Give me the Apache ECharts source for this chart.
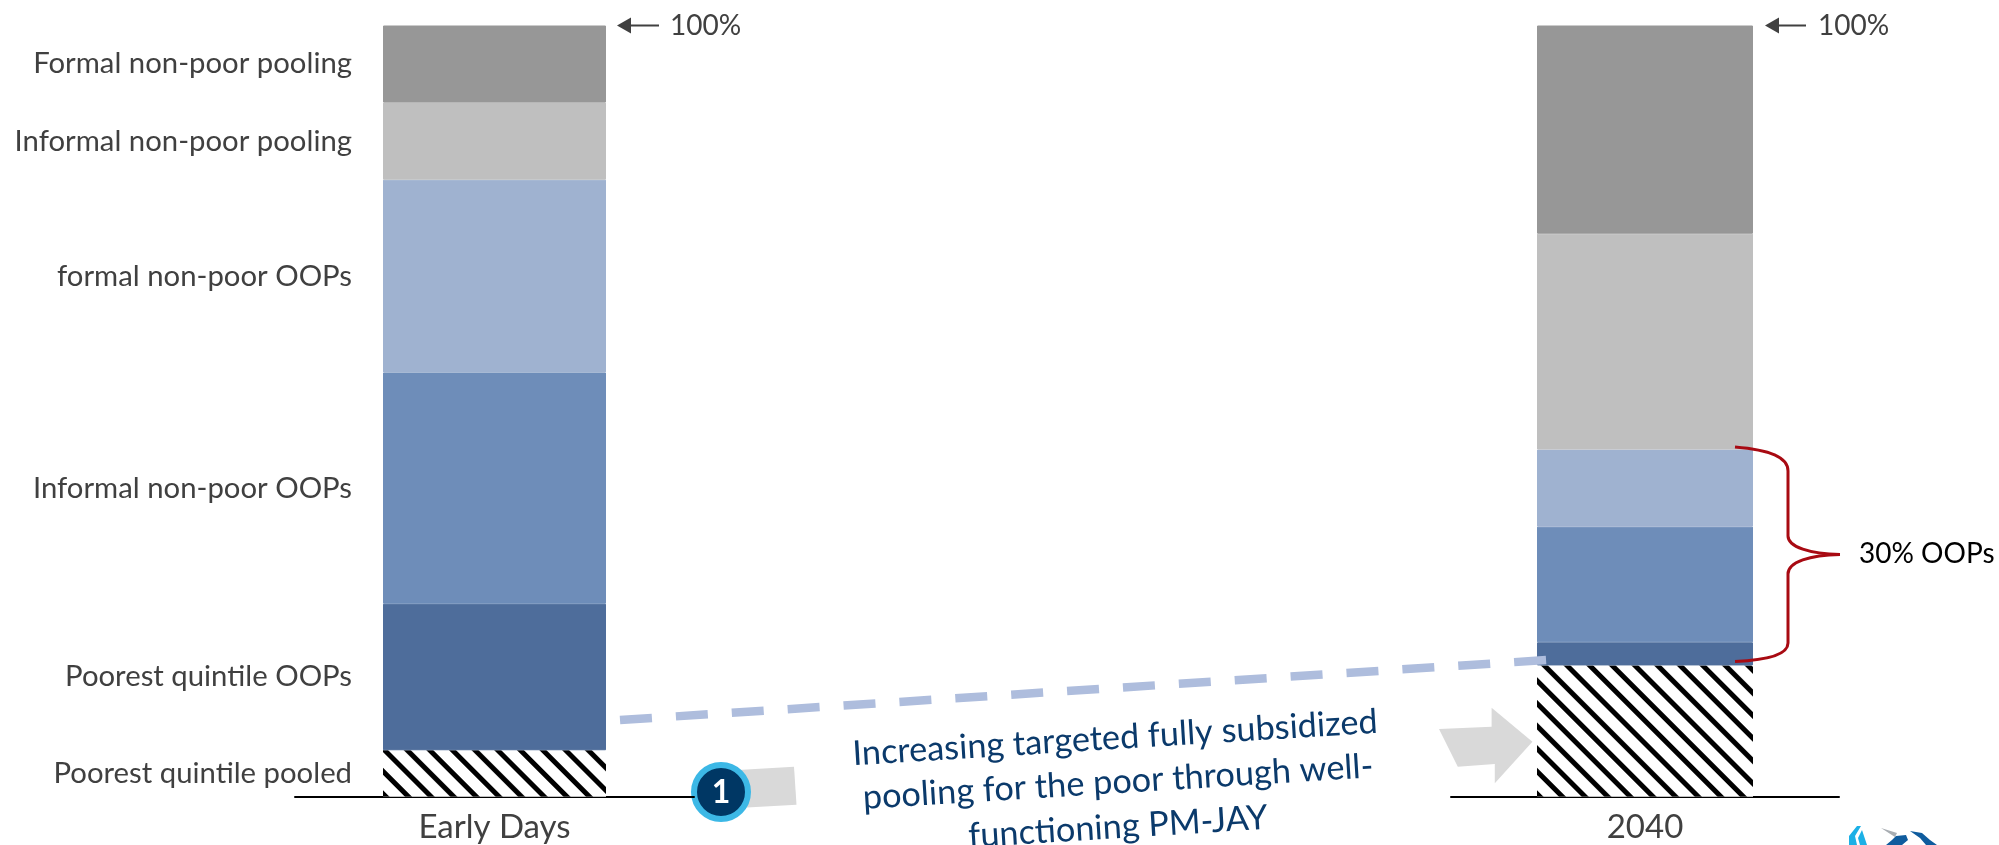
<!DOCTYPE html>
<html><head><meta charset="utf-8">
<style>html,body{margin:0;padding:0;background:#fff}#c{width:1999px;height:845px}</style>
<script src="https://cdn.jsdelivr.net/npm/echarts@6/dist/echarts.min.js"></script>
</head><body><div id="c"></div>
<script>
const segmentNames = ['Poorest quintile pooled','Poorest quintile OOPs','Informal non-poor OOPs','formal non-poor OOPs','Informal non-poor pooling','Formal non-poor pooling'];
const segmentColors = ['#ffffff','#4E6D9B','#6E8DB9','#9FB2D0','#BFBFBF','#979797'];
const earlyDays = [6,19,30,25,10,10];
const year2040 = [17,3,15,10,28,27];
const FONT='Lato';
const TXT='#404040';
const decal={symbol:'rect',symbolSize:1,rotation:Math.PI/4,dashArrayX:[1,0],dashArrayY:[5,10.5],color:'#000',backgroundColor:'#fff'};
function build(values,idx,barW,showLabel){
  return segmentNames.map((n,i)=>({
    type:'bar',name:n,xAxisIndex:idx,yAxisIndex:idx,stack:'s'+idx,barWidth:barW,silent:true,animation:false,
    data:[values[i]],
    itemStyle:i===0?{color:'#fff',decal:decal}:{color:segmentColors[i],borderColor:segmentColors[i],borderWidth:1},
    label:showLabel?{show:true,position:'left',distance:31,formatter:n,color:TXT,fontFamily:FONT,fontSize:29.3}:{show:false}
  }));
}
const g=(pts,fill)=>({type:'polygon',shape:{points:pts},style:{fill:fill},silent:true});
const arrow=(tip,tail,y)=>[
  {type:'line',shape:{x1:tip+6,y1:y,x2:tail,y2:y},style:{stroke:TXT,lineWidth:2}},
  g([[tip,y],[tip+14,y-8],[tip+14,y+8]],TXT)
];
const RED={fill:'none',stroke:'#A80A12',lineWidth:3};
const bz=(x1,y1,c1x,c1y,c2x,c2y,x2,y2)=>({type:'bezierCurve',z:20,shape:{x1,y1,cpx1:c1x,cpy1:c1y,cpx2:c2x,cpy2:c2y,x2,y2},style:RED});
const ln=(x1,y1,x2,y2)=>({type:'line',z:20,shape:{x1,y1,x2,y2},style:RED});
const blue=(x,y,text)=>({type:'text',x,y,rotation:0.062,style:{x:0,y:0,text,fill:'#0B3A6B',font:'34.3px '+FONT,textAlign:'center',textVerticalAlign:'middle'}});
const chart=echarts.init(document.getElementById('c'));
chart.setOption({
  animation:false,backgroundColor:'#fff',
  grid:[{left:295,width:399,top:25.5,height:771},{left:1451,width:388,top:25.5,height:771}],
  xAxis:[0,1].map(i=>({type:'category',gridIndex:i,data:[['Early Days','2040'][i]],
    axisLine:{lineStyle:{color:'#000',width:2}},axisTick:{show:false},
    axisLabel:{color:TXT,fontFamily:FONT,fontSize:33,margin:14}})),
  yAxis:[0,1].map(i=>({type:'value',gridIndex:i,min:0,max:100,show:false})),
  series:[...build(earlyDays,0,223,true),...build(year2040,1,216,false)],
  graphic:{elements:[
    ...arrow(617,659,25.5),...arrow(1765,1806,25.5),
    {type:'text',style:{x:670,y:26,text:'100%',fill:TXT,font:'28px '+FONT,textVerticalAlign:'middle'}},
    {type:'text',style:{x:1818,y:26,text:'100%',fill:TXT,font:'28px '+FONT,textVerticalAlign:'middle'}},
    {type:'line',z:10,shape:{x1:620,y1:720,x2:1547,y2:660},style:{stroke:'#AEBDDD',lineWidth:8.5,lineDash:[32,24]}},
    g([[738,770],[794,766.7],[796.5,804.7],[738,808]],'#D9D9D9'),
    {type:'circle',shape:{cx:721,cy:792,r:27},style:{fill:'#003764',stroke:'#3CB8E6',lineWidth:6}},
    {type:'text',style:{x:721,y:793,text:'1',fill:'#fff',font:'bold 32px '+FONT,textAlign:'center',textVerticalAlign:'middle'}},
    blue(1115,738,'Increasing targeted fully subsidized'),
    blue(1118,782,'pooling for the poor through well-'),
    blue(1118,827,'functioning PM-JAY'),
    g([[1439,729],[1491.6,726.7],[1491.6,707.7],[1532.4,741.7],[1494.8,783.3],[1494.8,764],[1457.8,766.7]],'#D9D9D9'),
    bz(1735,447,1770,450,1788,457,1788,471),
    ln(1788,471,1788,536),
    bz(1788,536,1788,547,1810,554,1840,554.5),
    bz(1840,554.5,1810,555,1788,562,1788,574),
    ln(1788,574,1788,643),
    bz(1788,643,1788,654,1770,660,1735,661.5),
    {type:'text',style:{x:1859,y:554,text:'30% OOPs',fill:'#000',font:'28px '+FONT,textVerticalAlign:'middle'}},
    g([[1849,845],[1849,836],[1857,826],[1861,826],[1855,836],[1857,845]],'#1CB0E6'),
    g([[1860,845],[1858,838],[1862,830],[1867,845]],'#1CB0E6'),
    g([[1881,828],[1897,833],[1895,837]],'#A8ADB2'),
    g([[1886,845],[1892,840],[1896,836],[1906,835],[1908,840],[1902,845]],'#0F5C9E'),
    g([[1910,831],[1922,833],[1930,840],[1937,845],[1926,845],[1920,838]],'#0F5C9E')
  ]}
});
</script></body></html>
